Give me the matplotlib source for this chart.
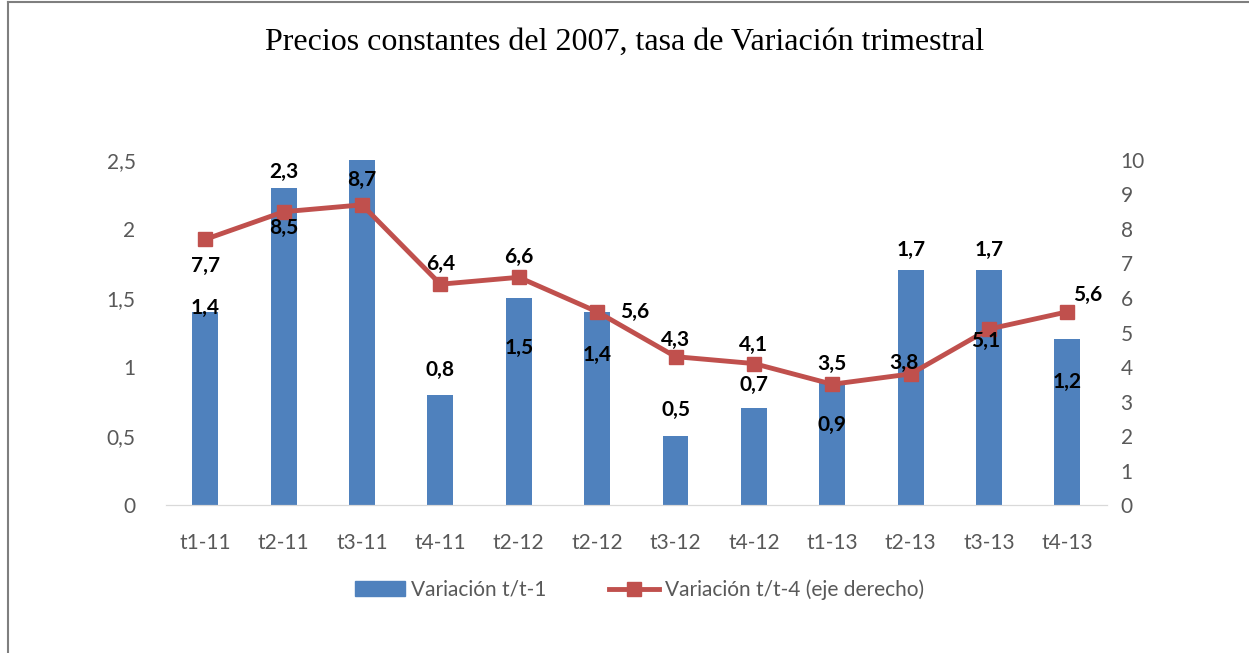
import matplotlib.pyplot as plt
from matplotlib.lines import Line2D
from matplotlib.ticker import FuncFormatter

# Datos
trimestres = ['t1-11', 't2-11', 't3-11', 't4-11', 't2-12', 't2-12',
              't3-12', 't4-12', 't1-13', 't2-13', 't3-13', 't4-13']
var_t1 = [1.4, 2.3, 2.6, 0.8, 1.5, 1.4, 0.5, 0.7, 0.9, 1.7, 1.7, 1.2]
var_t4 = [7.7, 8.5, 8.7, 6.4, 6.6, 5.6, 4.3, 4.1, 3.5, 3.8, 5.1, 5.6]

# desplazamiento de las etiquetas (pixeles)
off_barras = [(0, 4), (0, 16), (0, 16), (0, 25), (0, -50), (0, -43),
              (0, 26), (0, 23), (0, -44), (0, 20), (0, 20), (0, -43)]
off_linea = [(0, -27), (0, -16), (0, 25), (0, 20), (0, 20), (38, 0),
             (0, 17), (0, 19), (0, 20), (-7, 11), (-3, -12), (20, 17)]

azul = '#4F81BD'
rojo = '#C0504D'
gris = '#595959'
plt.rcParams['font.family'] = ['Lato', 'DejaVu Sans']

fig = plt.figure(figsize=(12.49, 6.53), dpi=100)
ax = fig.add_axes([0.133, 0.2266, 0.753, 0.5284])
ax2 = ax.twinx()

x = list(range(len(trimestres)))
ax.bar(x, var_t1, width=0.33, color=azul, zorder=1)
ax2.plot(x, var_t4, color=rojo, lw=3.5, marker='s', markersize=10, zorder=3)

ax.set_ylim(0, 2.5)
ax.set_xlim(-0.5, len(x) - 0.5)
ax2.set_ylim(0, 10)
ax.set_yticks([0, 0.5, 1, 1.5, 2, 2.5])
ax2.set_yticks(range(0, 11))
ax.yaxis.set_major_formatter(FuncFormatter(lambda v, p: ('%g' % v).replace('.', ',')))
ax.set_xticks(x)
ax.set_xticklabels(trimestres)

for a in (ax, ax2):
    for s in ['top', 'left', 'right']:
        a.spines[s].set_visible(False)
    a.spines['bottom'].set_color('#d9d9d9')
    a.tick_params(length=0, labelsize=15, colors=gris)
ax.tick_params(axis='x', pad=20)
ax.tick_params(axis='y', pad=22)
ax2.tick_params(axis='y', pad=10)

for i, v in enumerate(var_t1):
    ax.annotate(('%.1f' % v).replace('.', ','), (i, v), xytext=off_barras[i],
                textcoords='offset pixels', ha='center', va='center',
                fontsize=15, fontweight='bold', color='black')
for i, v in enumerate(var_t4):
    ax2.annotate(('%.1f' % v).replace('.', ','), (i, v), xytext=off_linea[i],
                 textcoords='offset pixels', ha='center', va='center',
                 fontsize=15, fontweight='bold', color='black', zorder=5)

fig.text(0.5, 0.935, 'Precios constantes del 2007, tasa de Variación trimestral',
         ha='center', va='center', fontsize=23, family='Liberation Serif')

handles = [plt.Rectangle((0, 0), 1, 1, color=azul),
           Line2D([0], [0], color=rojo, lw=3.5, marker='s', markersize=10)]
fig.legend(handles, ['Variación t/t-1', 'Variación t/t-4 (eje derecho)'],
           loc='center', bbox_to_anchor=(0.512, 0.097), ncol=2, frameon=False,
           fontsize=15, labelcolor=gris, columnspacing=3, handlelength=2.4,
           handletextpad=0.3)

# marco
fig.add_artist(Line2D([8 / 1249, 8 / 1249], [0, 1 - 2 / 653], color='#7f7f7f', lw=1.5))
fig.add_artist(Line2D([8 / 1249, 1], [1 - 2 / 653, 1 - 2 / 653], color='#7f7f7f', lw=1.5))

fig.savefig('out.png', dpi=100)
